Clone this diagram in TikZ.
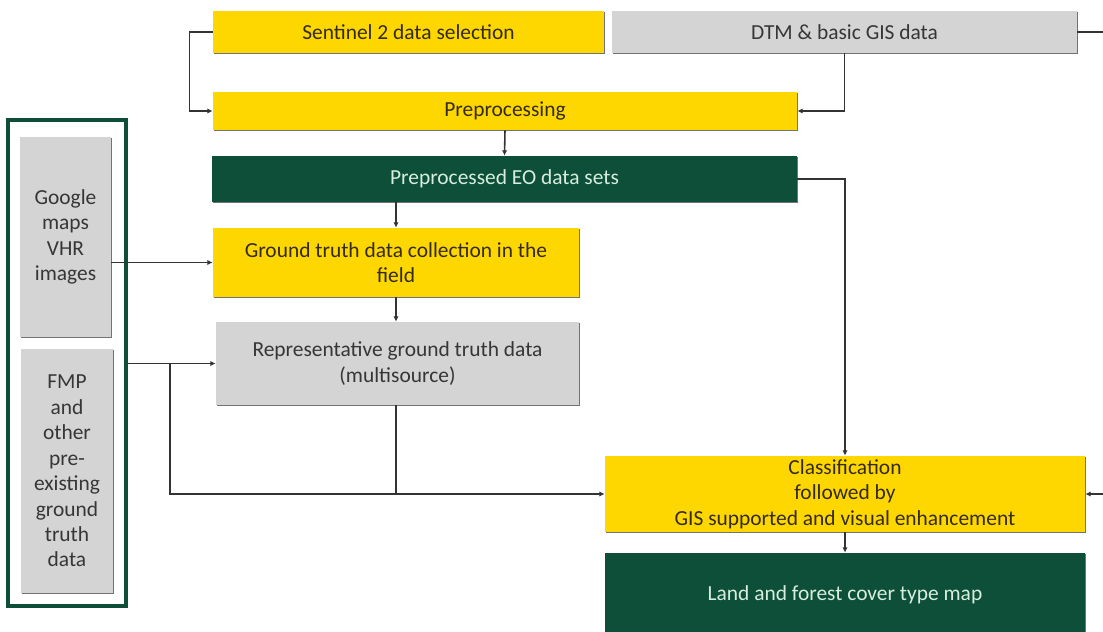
\documentclass[tikz,border=0pt]{standalone}
\usepackage{fontspec}
\setmainfont{Carlito}
\usetikzlibrary{arrows.meta,shadows}
\definecolor{boxyellow}{HTML}{FFD700}
\definecolor{boxgray}{HTML}{D4D4D4}
\definecolor{boxgreen}{HTML}{0D4F38}
\definecolor{linegray}{HTML}{333333}
\definecolor{yellowtext}{HTML}{332B18}
\definecolor{graytext}{HTML}{363636}
\definecolor{greentext}{HTML}{D6EEDF}
\tikzset{
  % a box spanning pixel corners (x1,y1)-(x2,y2)
  span/.style n args={4}{minimum width={(#3-#1)*0.02cm}, minimum height={(#4-#2)*0.02cm},
    at={({(#1+#3)/2},{(#2+#4)/2})}},
  basebox/.style={inner sep=0pt, align=center, font=\fontsize{12.2}{14.5}\selectfont,
    drop shadow={shadow xshift=0.7pt, shadow yshift=-0.7pt, fill=black!55, opacity=1}},
  yellowbox/.style={basebox, fill=boxyellow, text=yellowtext},
  graybox/.style={basebox, fill=boxgray, text=graytext},
  greenbox/.style={basebox, fill=boxgreen, text=greentext},
  conn/.style={draw=linegray, line width=0.9pt},
  arr/.style={conn, -{Latex[length=3pt,width=3pt]}},
}
\begin{document}
\begin{tikzpicture}[x=0.02cm,y=-0.02cm]
  \useasboundingbox (0,0) rectangle (1103,632);
  \fill[white] (0,0) rectangle (1103,632);

  % input data
  \node[yellowbox, span={213}{11}{604}{53}] (sen) {Sentinel 2 data selection};
  \node[graybox, span={612}{11}{1077}{53}] (dtm) {DTM \& basic GIS data};

  % processing chain
  \node[yellowbox, span={213}{92}{797}{130}] (pre) {Preprocessing};
  \node[greenbox, span={212}{156}{797}{202}] (eo) {Preprocessed EO data sets};
  \node[yellowbox, span={213}{228}{579}{297}] (gt) {Ground truth data collection in the\\field};
  \node[graybox, span={216}{322}{579}{405}] (rep) {Representative ground truth data\\(multisource)};
  \node[yellowbox, span={605}{456}{1085}{532}] (cls) {Classification\\followed by\\GIS supported and visual enhancement};
  \node[greenbox, span={605}{553}{1085}{637}] (map) {Land and forest cover type map};

  % additional reference sources
  \node[draw=boxgreen, line width=1.8pt, inner sep=0pt, span={8}{120}{126}{606}] (frame) {};
  \node[graybox, span={20}{137}{111}{337}] (goo) {Google\\maps\\VHR\\images};
  \node[graybox, span={21}{349}{113}{593}] (fmp) {FMP\\and\\other\\pre-\\existing\\ground\\truth\\data};

  % connectors
  \draw[arr] (sen.west) -- ++(-23,0) |- (pre.west);
  \draw[arr] (dtm.south) |- (pre.east);
  \coordinate (dtmout) at (1103,32);
  \draw[conn] (dtm.east |- dtmout) -- (dtmout);
  \draw[arr] (pre.south) -- (eo.north);
  \draw[arr] (eo.south -| gt.north) -- (gt.north);
  \draw[arr] (eo.east) -| (cls.north);
  \draw[arr] (goo.east |- gt.west) -- (gt.west);
  \draw[arr] (gt.south) -- (gt.south |- rep.north);
  \draw[arr] (frame.east |- rep.west) -- (rep.west);
  \coordinate (branch) at (170,0);
  \draw[arr] (branch |- rep.west) |- (cls.west);
  \coordinate (repdown) at (396,0);
  \draw[conn] (repdown |- rep.south) -- (repdown |- cls.west);
  \coordinate (rightin) at (1103,0);
  \draw[arr] (rightin |- cls.east) -- (cls.east);
  \draw[arr] (cls.south) -- (map.north);
\end{tikzpicture}
\end{document}
